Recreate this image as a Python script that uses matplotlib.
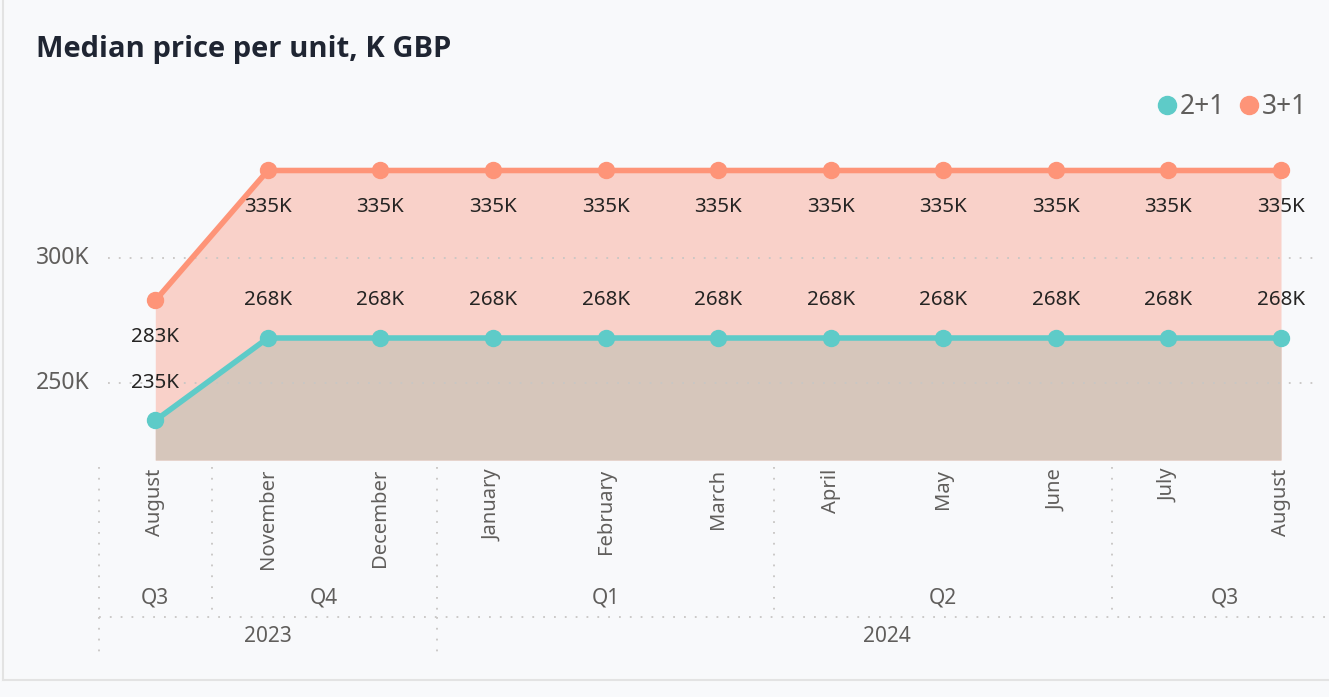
import matplotlib.pyplot as plt
from matplotlib.lines import Line2D
from matplotlib.transforms import blended_transform_factory

# Данные
months = ['August', 'November', 'December', 'January', 'February', 'March',
          'April', 'May', 'June', 'July', 'August']
quarters = ['Q3', 'Q4', 'Q4', 'Q1', 'Q1', 'Q1', 'Q2', 'Q2', 'Q2', 'Q3', 'Q3']
years = ['2023', '2023', '2023', '2024', '2024', '2024', '2024', '2024', '2024', '2024', '2024']
price_2p1 = [235, 268, 268, 268, 268, 268, 268, 268, 268, 268, 268]
price_3p1 = [283, 335, 335, 335, 335, 335, 335, 335, 335, 335, 335]
y_ticks = [250, 300]

BG = '#F8F9FB'
TEAL = '#5ECBC8'
SALMON = '#FE9478'
GRAY = '#605E5C'
DARK = '#252423'
DOT = '#C8C6C4'

plt.rcParams['font.family'] = ['Noto Sans', 'DejaVu Sans']

W, H = 1329, 697
fig = plt.figure(figsize=(W / 100, H / 100), dpi=100, facecolor=BG)

def fy(p):
    return 1 - p / H

x_step = 112.6
x0_px = 155
left_px = 99
ax = fig.add_axes([left_px / W, fy(460), (W - left_px) / W, 350 / H])
ax.set_facecolor(BG)
x = list(range(len(months)))
ax.set_xlim(-0.5, (W - x0_px) / x_step)
ax.set_ylim(219.2, 359.2)

ybase = 219.2
ax.fill_between(x, ybase, price_3p1, color='#F9D1C9', lw=0, zorder=1)
ax.fill_between(x, ybase, price_2p1, color='#D6C6BB', lw=0, zorder=2)

ax.hlines(y_ticks, -0.42, 10.35, colors=DOT, linestyles=(0, (1, 5)), lw=1.3, zorder=3)

ax.plot(x, price_3p1, color=SALMON, lw=4, marker='o', ms=11.5, zorder=5)
ax.plot(x, price_2p1, color=TEAL, lw=4, marker='o', ms=11.5, zorder=5)

for i in x:
    ax.annotate(f'{price_3p1[i]}K', (i, price_3p1[i]), xytext=(0, -26),
                textcoords='offset points', ha='center', va='center',
                fontsize=14.8, color=DARK, zorder=6)
    ax.annotate(f'{price_2p1[i]}K', (i, price_2p1[i]), xytext=(0, 27),
                textcoords='offset points', ha='center', va='center',
                fontsize=14.8, color=DARK, zorder=6)

for sp in ax.spines.values():
    sp.set_visible(False)
ax.set_xticks([])
ax.set_yticks([])
for v in y_ticks:
    ax.text(-0.58, v, f'{v}K', ha='right', va='center', fontsize=16.5,
            color=GRAY, transform=ax.transData, clip_on=False)

# Иерархическая ось X
tr = blended_transform_factory(ax.transData, fig.transFigure)
for i, m in enumerate(months):
    ax.text(i, fy(469), m, rotation=90, ha='center', va='top', fontsize=14.5,
            color=GRAY, transform=tr)

def groups(keys):
    out = []
    start = 0
    for i in range(1, len(keys) + 1):
        if i == len(keys) or keys[i] != keys[start]:
            out.append((keys[start], start, i - 1))
            start = i
    return out

dot_kw = dict(color=DOT, ls=(0, (1, 5)), lw=1.3, transform=tr, clip_on=False)
q_keys = list(zip(years, quarters))
for (yr, q), a, b in groups(q_keys):
    ax.text((a + b) / 2, fy(598), q, ha='center', va='center', fontsize=15,
            color=GRAY, transform=tr)
    ax.add_line(Line2D([a - 0.5, a - 0.5], [fy(467), fy(612)], **dot_kw))
for yr, a, b in groups(years):
    ax.text((a + b) / 2, fy(637), yr, ha='center', va='center', fontsize=15,
            color=GRAY, transform=tr)
    ax.add_line(Line2D([a - 0.5, a - 0.5], [fy(617), fy(660)], **dot_kw))
ax.add_line(Line2D([-0.5, 10.5], [fy(617), fy(617)], **dot_kw))

# Заголовок и легенда
fig.text(36 / W, fy(50), 'Median price per unit, K GBP', fontsize=21,
         fontweight='bold', family='Open Sans', color='#1F2532', ha='left', va='center')
handles = [Line2D([], [], ls='none', marker='o', ms=13, color=c) for c in (TEAL, SALMON)]
fig.legend(handles, ['2+1', '3+1'], loc='center right', bbox_to_anchor=(1318 / W, fy(107)),
           ncol=2, frameon=False, fontsize=19, labelcolor=GRAY, handletextpad=0.0,
           columnspacing=0.4, handlelength=1.0, borderaxespad=0)

# Рамка карточки
fig.add_artist(Line2D([3 / W, 3 / W], [fy(680), 1], color='#E3E3E3', lw=1.5))
fig.add_artist(Line2D([3 / W, 1], [fy(680), fy(680)], color='#E3E3E3', lw=1.5))

fig.savefig('out.png', dpi=100, facecolor=BG)
